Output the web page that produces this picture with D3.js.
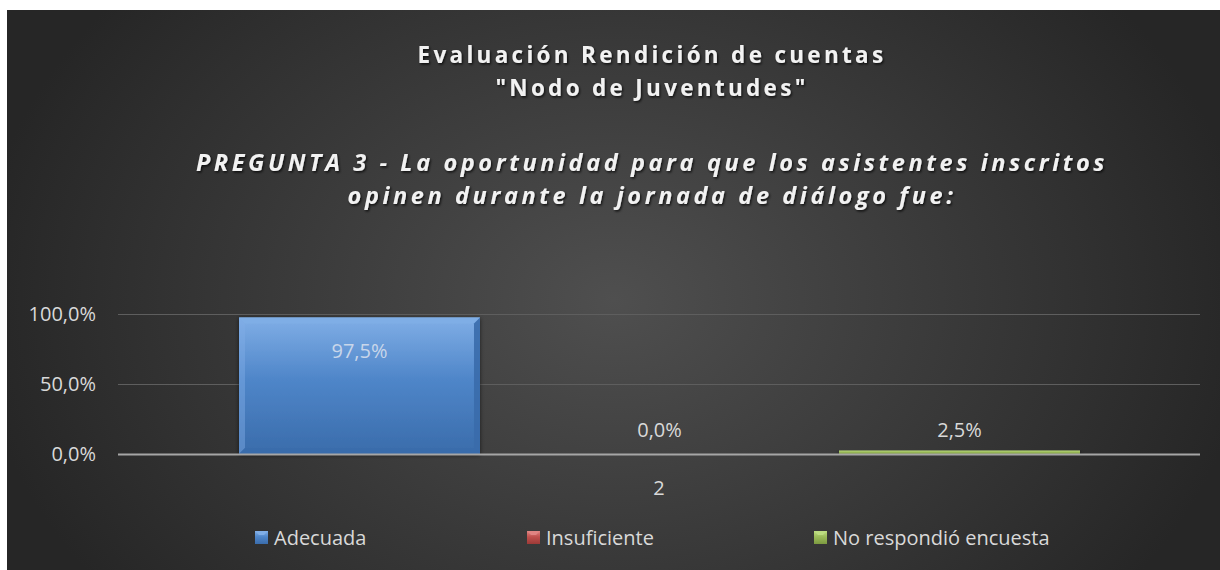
<!DOCTYPE html>
<html>
<head>
<meta charset="utf-8">
<script src="https://cdn.jsdelivr.net/npm/d3@7"></script>
<style>
  body { margin: 0; background: #ffffff; }
  svg { display: block; }
  text { font-family: "Open Sans", Lato, sans-serif; }
</style>
</head>
<body>
<svg></svg>
<script>
// chart values
var categories = ["2"];
var seriesNames = ["Adecuada", "Insuficiente", "No respondió encuesta"];
var seriesValues = [0.975, 0.0, 0.025];
var yTicks = [0, 0.5, 1];
var titleLines = ["Evaluación Rendición de cuentas", "\"Nodo de Juventudes\""];
var subtitleLines = ["PREGUNTA 3 - La oportunidad para que los asistentes inscritos",
                     "opinen durante la jornada de diálogo fue:"];

var colors = {
    "Adecuada": ["#80aee6", "#4f86c9", "#3a6cab"],
    "Insuficiente": ["#e08482", "#c0504d", "#9c3a37"],
    "No respondió encuesta": ["#bcdc80", "#9bbb59", "#7c9a40"]
};

var width = 1220,
    height = 570,
    plot = { left: 118, right: 1200, top: 314, bottom: 454 };

var locale = d3.formatLocale({ decimal: ",", thousands: ".", grouping: [3], currency: ["", "€"] });
var pct = locale.format(".1%");

var svg = d3.select("svg")
    .attr("width", width)
    .attr("height", height);

var defs = svg.append("defs");

var bg = defs.append("radialGradient")
    .attr("id", "bg")
    .attr("gradientUnits", "userSpaceOnUse")
    .attr("cx", 614).attr("cy", 300).attr("r", 640)
    .attr("gradientTransform", "translate(614,300) scale(1,0.75) translate(-614,-300)");
bg.append("stop").attr("offset", "0%").attr("stop-color", "#4f4f4f");
bg.append("stop").attr("offset", "100%").attr("stop-color", "#262626");

var shadow = defs.append("filter").attr("id", "shadow")
    .attr("x", "-10%").attr("y", "-30%").attr("width", "120%").attr("height", "160%");
shadow.append("feDropShadow")
    .attr("dx", 1.2).attr("dy", 1.5).attr("stdDeviation", 1)
    .attr("flood-color", "#000").attr("flood-opacity", 0.75);

var barShadow = defs.append("filter").attr("id", "barShadow")
    .attr("x", "-10%").attr("y", "-10%").attr("width", "120%").attr("height", "120%");
barShadow.append("feDropShadow")
    .attr("dx", 0).attr("dy", 1).attr("stdDeviation", 2)
    .attr("flood-color", "#000").attr("flood-opacity", 0.6);

seriesNames.forEach(function(s, i) {
    var g = defs.append("linearGradient")
        .attr("id", "grad" + i)
        .attr("x1", 0).attr("y1", 0).attr("x2", 0).attr("y2", 1);
    g.append("stop").attr("offset", "0%").attr("stop-color", colors[s][0]);
    g.append("stop").attr("offset", "45%").attr("stop-color", colors[s][1]);
    g.append("stop").attr("offset", "100%").attr("stop-color", colors[s][2]);
});

// background
svg.append("rect")
    .attr("x", 7)
    .attr("y", 10)
    .attr("width", width - 7)
    .attr("height", height - 10)
    .attr("fill", "url(#bg)");

// titles
svg.append("g")
    .attr("filter", "url(#shadow)")
    .selectAll("text")
    .data(titleLines)
    .enter().append("text")
    .attr("x", 652)
    .attr("y", function(d, i) { return 63 + i * 33; })
    .attr("text-anchor", "middle")
    .attr("fill", "#f2f2f2")
    .style("font-size", "22.5px")
    .style("font-weight", "bold")
    .style("letter-spacing", "3.3px")
    .text(function(d) { return d; });

svg.append("g")
    .attr("filter", "url(#shadow)")
    .selectAll("text")
    .data(subtitleLines)
    .enter().append("text")
    .attr("x", 652)
    .attr("y", function(d, i) { return 171 + i * 33; })
    .attr("text-anchor", "middle")
    .attr("fill", "#f2f2f2")
    .style("font-size", "23.5px")
    .style("font-weight", "bold")
    .style("font-style", "italic")
    .style("letter-spacing", "3.6px")
    .text(function(d) { return d; });

// scales
var x0 = d3.scaleBand()
    .domain(categories)
    .range([plot.left, plot.right]);

var x1 = d3.scaleBand()
    .domain(seriesNames)
    .range([121, x0.bandwidth() - 120])
    .paddingInner(0.1967);

var y = d3.scaleLinear()
    .domain([0, 1])
    .range([plot.bottom, plot.top]);

// gridlines
svg.append("g")
    .selectAll("line")
    .data(yTicks.filter(function(d) { return d > 0; }))
    .enter().append("line")
    .attr("x1", plot.left)
    .attr("x2", plot.right)
    .attr("y1", function(d) { return Math.round(y(d)) + 0.5; })
    .attr("y2", function(d) { return Math.round(y(d)) + 0.5; })
    .attr("stroke", "#5e5e5e")
    .attr("stroke-width", 1);

// y tick labels
svg.append("g")
    .selectAll("text")
    .data(yTicks)
    .enter().append("text")
    .attr("x", 96)
    .attr("y", function(d) { return y(d); })
    .attr("dy", "0.35em")
    .attr("text-anchor", "end")
    .attr("fill", "#d9d9d9")
    .style("font-size", "20px")
    .text(function(d) { return pct(d); });

// bars
var cat = svg.selectAll(".cat")
    .data(categories)
    .enter().append("g")
    .attr("class", "cat")
    .attr("transform", function(d) { return "translate(" + x0(d) + ",0)"; });

var bar = cat.selectAll(".bar")
    .data(seriesNames.map(function(s, i) { return { name: s, value: seriesValues[i], i: i }; }))
    .enter().append("g")
    .attr("class", "bar");

bar.append("rect")
    .attr("x", function(d) { return x1(d.name); })
    .attr("y", function(d) { return y(d.value); })
    .attr("width", x1.bandwidth())
    .attr("height", function(d) { return y(0) - y(d.value); })
    .attr("fill", function(d) { return "url(#grad" + d.i + ")"; })
    .attr("filter", "url(#barShadow)");

// bevel edges on the taller bars
function bevel(d) {
    var h = y(0) - y(d.value);
    var b = Math.min(6, h / 2);
    var x = x1(d.name), w = x1.bandwidth(), t = y(d.value), bt = y(0);
    return [
        { pts: [[x, t], [x + w, t], [x + w - b, t + b], [x + b, t + b]], c: colors[d.name][0], o: 0.95 },
        { pts: [[x, t], [x + b, t + b], [x + b, bt - b], [x, bt]], c: colors[d.name][0], o: 0.45 },
        { pts: [[x + w, t], [x + w, bt], [x + w - b, bt - b], [x + w - b, t + b]], c: colors[d.name][2], o: 0.9 },
        { pts: [[x, bt], [x + b, bt - b], [x + w - b, bt - b], [x + w, bt]], c: colors[d.name][2], o: 0.9 }
    ];
}

bar.filter(function(d) { return y(0) - y(d.value) > 6; })
    .selectAll("polygon")
    .data(bevel)
    .enter().append("polygon")
    .attr("points", function(p) { return p.pts.join(" "); })
    .attr("fill", function(p) { return p.c; })
    .attr("fill-opacity", function(p) { return p.o; });

// data labels
bar.append("text")
    .attr("x", function(d) { return x1(d.name) + x1.bandwidth() / 2; })
    .attr("y", function(d) { return d.value > 0.2 ? y(d.value) + 33 : y(0) - 24; })
    .attr("text-anchor", "middle")
    .attr("dy", "0.35em")
    .attr("fill", function(d) { return d.value > 0.2 ? "#c8d6ea" : "#d9d9d9"; })
    .style("font-size", "20px")
    .text(function(d) { return pct(d.value); });

// zero axis line
svg.append("line")
    .attr("x1", plot.left)
    .attr("x2", plot.right)
    .attr("y1", y(0) + 0.5)
    .attr("y2", y(0) + 0.5)
    .attr("stroke", "#a6a6a6")
    .attr("stroke-width", 2);

// category label
svg.append("g")
    .selectAll("text")
    .data(categories)
    .enter().append("text")
    .attr("x", function(d) { return x0(d) + x0.bandwidth() / 2; })
    .attr("y", 488)
    .attr("dy", "0.35em")
    .attr("text-anchor", "middle")
    .attr("fill", "#d9d9d9")
    .style("font-size", "20px")
    .text(function(d) { return d; });

// legend
var legendX = [255, 527, 814];
var legend = svg.selectAll(".legend")
    .data(seriesNames)
    .enter().append("g")
    .attr("class", "legend")
    .attr("transform", function(d, i) { return "translate(" + legendX[i] + ",531)"; });

legend.append("rect")
    .attr("width", 13)
    .attr("height", 13)
    .attr("fill", function(d, i) { return "url(#grad" + i + ")"; });

legend.append("polygon")
    .attr("points", "0,0 13,0 9,4 4,4")
    .attr("fill", function(d) { return colors[d][0]; });

legend.append("text")
    .attr("x", 19)
    .attr("y", 6.5)
    .attr("dy", "0.35em")
    .attr("fill", "#d9d9d9")
    .style("font-size", "20px")
    .text(function(d) { return d; });
</script>
</body>
</html>
